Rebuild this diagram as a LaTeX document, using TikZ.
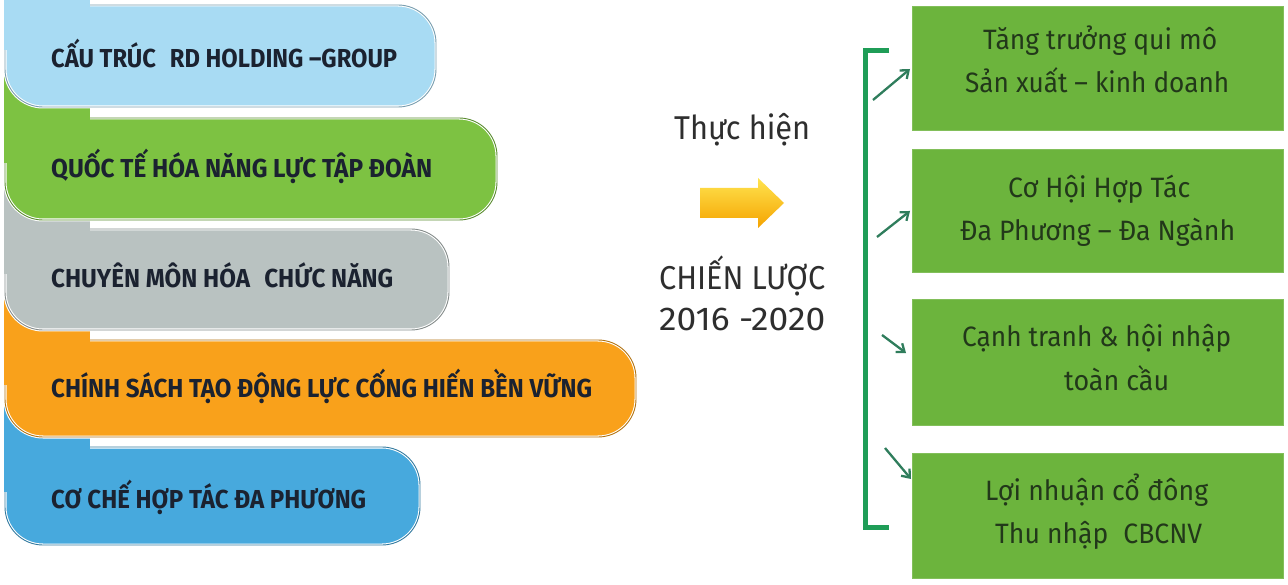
\documentclass[tikz,border=0pt]{standalone}
\usepackage{fontspec}
\setmainfont{Fira Sans}
\usetikzlibrary{arrows.meta}
\definecolor{bandA}{HTML}{A8DBF3}
\definecolor{bandB}{HTML}{7DC242}
\definecolor{bandC}{HTML}{B9C2C1}
\definecolor{bandD}{HTML}{F9A11B}
\definecolor{bandE}{HTML}{47A9DD}
\definecolor{boxg}{HTML}{6CB43D}
\definecolor{brk}{HTML}{1F9D57}
\definecolor{arrc}{HTML}{2F7D5C}
\definecolor{ltxt}{HTML}{1B2230}
\definecolor{rtxt}{HTML}{22381A}
\definecolor{mtxt}{HTML}{2E2E2E}
\definecolor{arTop}{HTML}{FFE44F}
\definecolor{arMid}{HTML}{FFC20A}
\definecolor{arBot}{HTML}{F5A300}
\newcommand\fitw[2]{\resizebox{#1pt}{\height}{#2}}
% band: color, top, bottom, right, extension top
\newcommand\band[5]{%
  \path[fill=#1, draw=white, line width=3pt, rounded corners=38pt] (5,#2) rectangle (#4,#3);
  \path[draw=#1!72!black, line width=0.9pt, rounded corners=38pt] (5,#2) rectangle (#4,#3);
  \fill[#1] (4,#5) rectangle (90,#2+45);
}
\begin{document}
\begin{tikzpicture}[x=1pt,y=-1pt,
  ltext/.style={anchor=base west, inner sep=0pt, text=ltxt, font=\fontsize{26}{30}\selectfont\bfseries},
  rtext/.style={anchor=base west, inner sep=0pt, text=rtxt, font=\fontsize{28}{32}\selectfont},
  mtext/.style={anchor=base west, inner sep=0pt, text=mtxt, font=\fontsize{33}{38}\selectfont},
  gbox/.style={fill=boxg, draw=boxg!85!white, line width=1pt, inner sep=0pt},
  smallarrow/.style={arrc, line width=2.3pt, -{Straight Barb[length=7pt,width=11pt]}}]
\useasboundingbox (0,0) rectangle (1288,585);
\fill[white] (0,0) rectangle (1288,585);

% ---- left bands (lowest first) ----
\band{bandE}{447}{545}{420}{401}
\band{bandD}{340}{437}{636}{294}
\band{bandC}{229}{330}{449}{184}
\band{bandB}{118}{220}{497}{71}
\band{bandA}{5}{107}{436}{-40}

\node[ltext] (l1) at (51,68) {\fitw{346}{CẤU TRÚC\hspace{0.35em} RD HOLDING –GROUP}};
\node[ltext] (l2) at (51,178) {\fitw{381}{QUỐC TẾ HÓA NĂNG LỰC TẬP ĐOÀN}};
\node[ltext] (l3) at (51,288) {\fitw{342}{CHUYÊN MÔN HÓA\hspace{0.35em} CHỨC NĂNG}};
\node[ltext] (l4) at (51,398) {\fitw{541}{CHÍNH SÁCH TẠO ĐỘNG LỰC CỐNG HIẾN BỀN VỮNG}};
\node[ltext] (l5) at (51,508) {\fitw{315}{CƠ CHẾ HỢP TÁC ĐA PHƯƠNG}};

% ---- middle ----
\node[mtext] (m1) at (674,140) {\fitw{136}{Thực hiện}};
\shade[top color=arTop, middle color=arMid, bottom color=arBot]
  (700,188) -- (758,188) -- (758,178) -- (784,203) -- (758,228) -- (758,218) -- (700,218) -- cycle;
\node[mtext] (m2) at (659,290) {\fitw{166}{CHIẾN LƯỢC}};
\node[mtext] (m3) at (659,331) {\fitw{166}{2016 -2020}};

% ---- right boxes ----
\node[gbox, minimum width=371pt, minimum height=124pt] (b1) at (1097.5,68.5) {};
\node[gbox, minimum width=371pt, minimum height=123pt] (b2) at (1097.5,211.5) {};
\node[gbox, minimum width=371pt, minimum height=125pt] (b3) at (1097.5,362.5) {};
\node[gbox, minimum width=371pt, minimum height=125pt] (b4) at (1097.5,515.5) {};

\node[rtext] (r1a) at (983,50) {\fitw{234}{Tăng trưởng qui mô}};
\node[rtext] (r1b) at (965,93) {\fitw{264}{Sản xuất – kinh doanh}};
\node[rtext] (r2a) at (1008,198) {\fitw{182}{Cơ Hội Hợp Tác}};
\node[rtext] (r2b) at (960,241) {\fitw{275}{Đa Phương – Đa Ngành}};
\node[rtext] (r3a) at (962,347) {\fitw{269}{Cạnh tranh \& hội nhập}};
\node[rtext] (r3b) at (1064,390) {\fitw{105}{toàn cầu}};
\node[rtext] (r4a) at (985,500) {\fitw{223}{Lợi nhuận cổ đông}};
\node[rtext] (r4b) at (995,543) {\fitw{207}{Thu nhập\hspace{0.3em} CBCNV}};

% ---- bracket ----
\coordinate (bt) at (889,51);
\coordinate (bb) at (889,527.5);
\draw[brk, line width=5pt, line join=miter] (bt) -- (865.5,51) -- (865.5,527.5) -- (bb);

% ---- small arrows ----
\coordinate (a1s) at (873,100);
\coordinate (a1e) at (910,69);
\coordinate (a2s) at (877,237);
\coordinate (a2e) at (910,211);
\coordinate (a3s) at (882,335);
\coordinate (a3e) at (906,353);
\coordinate (a4s) at (885,448);
\coordinate (a4e) at (911,479);
\draw[smallarrow] (a1s) -- (a1e);
\draw[smallarrow] (a2s) -- (a2e);
\draw[smallarrow] (a3s) -- (a3e);
\draw[smallarrow] (a4s) -- (a4e);
\end{tikzpicture}
\end{document}
